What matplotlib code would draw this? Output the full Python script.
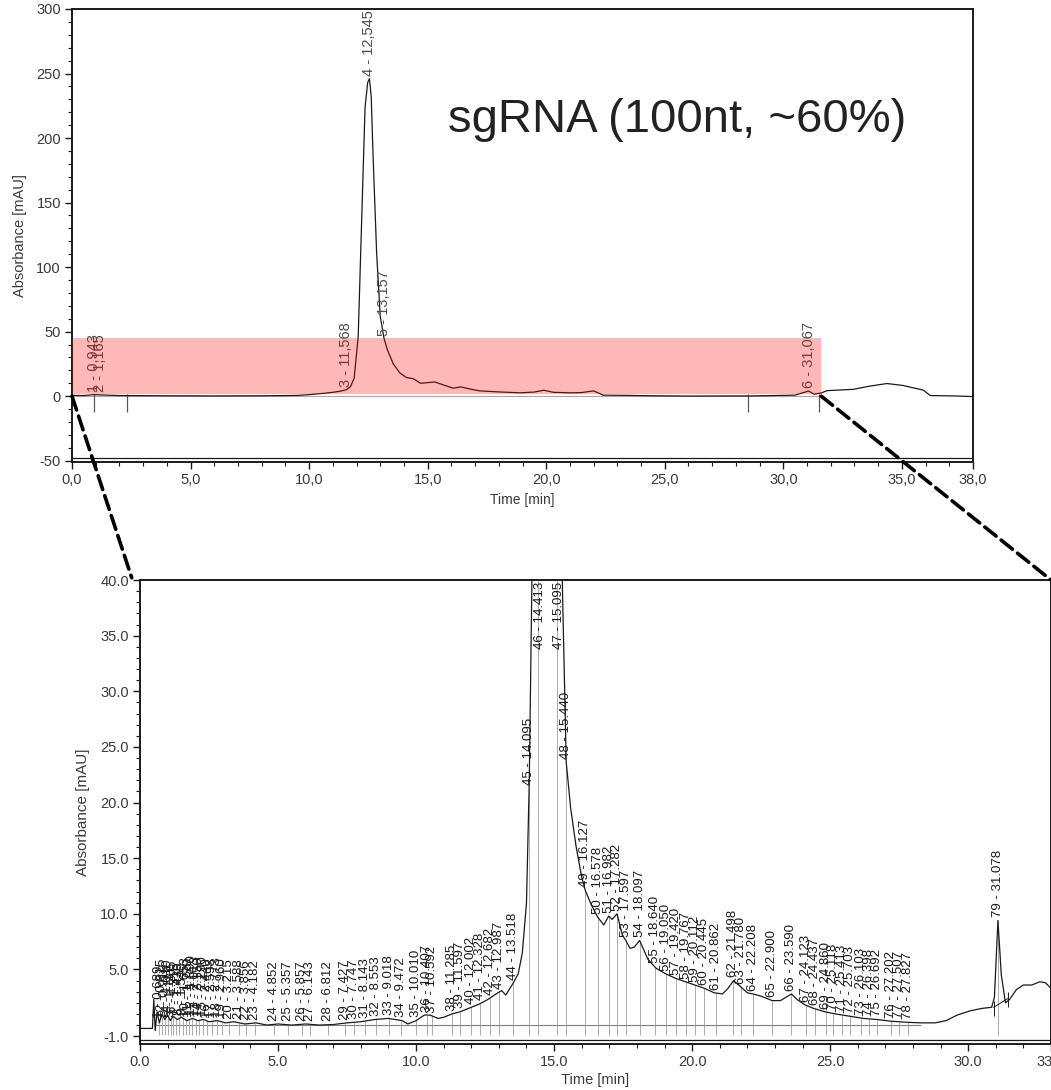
import numpy as np
import matplotlib.pyplot as plt
from matplotlib import font_manager
from matplotlib.patches import Rectangle, ConnectionPatch
from matplotlib.ticker import MultipleLocator

plt.rcParams['font.family'] = ['Liberation Sans', 'DejaVu Sans']
installed = {f.name for f in font_manager.fontManager.ttflist}
narrow = 'Liberation Sans Narrow' if 'Liberation Sans Narrow' in installed else 'Liberation Sans'

# full run, 0-38 min
top_time = [0.0, 0.5, 0.94, 1.17, 2.0, 4.0, 6.0, 8.0, 9.5, 10.0, 10.5, 11.0, 11.3, 11.57,
            11.75, 11.9, 12.07, 12.2, 12.36, 12.47, 12.545, 12.62, 12.7, 12.85, 13.0, 13.157,
            13.3, 13.55, 13.83, 14.1, 14.4, 14.7, 15.3, 15.7, 16.07, 16.4, 16.8, 17.2, 18.0,
            18.9, 19.5, 19.9, 20.3, 21.0, 21.5, 22.0, 22.4, 23.5, 24.5, 26.0, 28.7, 30.5,
            31.067, 31.3, 31.6, 31.85, 32.4, 32.95, 33.65, 34.37, 35.05, 35.9, 36.2, 37.15, 38.0]
top_signal = [0.6, 0.5, 1.2, 1.0, 0.5, 0.3, 0.2, 0.3, 0.6, 1.2, 2.0, 3.0, 3.8, 5.0,
              7.5, 14.0, 46.0, 126.0, 224.0, 243.0, 246.0, 232.0, 185.0, 110.0, 62.0, 45.0,
              36.0, 25.0, 18.0, 14.5, 13.5, 10.0, 11.0, 8.5, 6.2, 7.2, 5.5, 4.1, 3.3,
              2.6, 3.2, 4.6, 3.0, 2.6, 2.8, 4.1, 0.8, 0.6, 0.3, 0.1, 0.2, 0.8,
              4.0, 1.5, 2.5, 4.3, 4.8, 5.3, 7.8, 9.8, 8.3, 4.7, 0.5, 0.2, -0.3]
top_peak_no = [1, 2, 3, 4, 5, 6]
top_peak_rt = [0.943, 1.165, 11.568, 12.545, 13.157, 31.067]
top_marks = [0.94, 2.3, 28.5, 31.5]
highlight_t = (0.0, 31.6)
highlight_y = (1.5, 45.0)

# expanded run, 0-33 min
zoom_time = [0.0, 0.45, 0.5, 0.55, 0.62, 0.7, 0.8, 0.9, 1.0, 1.1, 1.2, 1.35, 1.5, 1.7, 1.9,
             2.1, 2.3, 2.5, 2.8, 3.1, 3.4, 3.8, 4.2, 4.6, 5.0, 5.5, 6.0, 6.5, 7.0, 7.5, 8.0,
             8.5, 9.0, 9.5, 9.7, 10.0, 10.3, 10.5, 10.8, 11.0, 11.3, 11.6, 12.0, 12.3, 12.6,
             12.9, 13.1, 13.25, 13.5, 13.7, 13.85, 14.0, 14.1, 14.2, 14.413, 14.7, 15.0, 15.3,
             15.44, 15.6, 15.8, 16.0, 16.13, 16.35, 16.58, 16.8, 16.98, 17.1, 17.28, 17.47,
             17.6, 17.75, 17.9, 18.1, 18.4, 18.7, 19.05, 19.4, 19.75, 20.1, 20.45, 20.8, 21.1,
             21.3, 21.5, 21.78, 22.0, 22.2, 22.5, 22.9, 23.2, 23.4, 23.6, 23.8, 24.1, 24.4,
             24.8, 25.2, 25.7, 26.2, 26.7, 27.2, 27.8, 28.3, 28.8, 29.2, 29.6, 30.1, 30.5,
             30.85, 30.95, 31.078, 31.2, 31.35, 31.5, 31.75, 32.0, 32.3, 32.6, 32.8, 33.0]
zoom_signal = [-0.3, -0.3, 2.3, -0.5, 1.2, 0.2, 1.0, 0.5, 0.9, 0.4, 0.8, 0.5, 0.7, 0.4, 0.6,
               0.4, 0.5, 0.3, 0.4, 0.2, 0.3, 0.1, 0.2, 0.0, 0.1, 0.0, 0.1, 0.0, 0.05, 0.2, 0.3,
               0.5, 0.6, 0.4, 0.1, 0.4, 0.9, 0.9, 0.6, 0.7, 1.0, 1.2, 1.6, 1.9, 2.3,
               2.8, 3.1, 2.7, 3.7, 4.6, 6.5, 11.0, 21.8, 40.5, 120.0, 110.0, 95.0, 39.5,
               23.6, 19.5, 16.0, 13.3, 12.1, 10.8, 9.7, 9.0, 9.8, 9.5, 10.0, 8.1,
               7.6, 6.9, 7.0, 7.6, 5.9, 5.1, 4.6, 4.2, 3.9, 3.6, 3.3, 2.9, 2.8,
               3.3, 4.0, 3.4, 2.9, 2.8, 2.6, 2.2, 2.2, 2.5, 2.8, 2.3, 1.8, 1.5,
               1.2, 1.0, 0.8, 0.6, 0.5, 0.35, 0.25, 0.2, 0.2, 0.4, 0.9, 1.3, 1.5,
               1.6, 2.5, 9.4, 4.5, 2.0, 2.3, 3.2, 3.6, 3.6, 3.9, 3.8, 3.3]
zoom_peak_rt = [0.689, 0.815, 0.913, 1.010, 1.117, 1.205, 1.318, 1.430, 1.540, 1.653,
                1.770, 1.890, 2.013, 2.150, 2.290, 2.440, 2.598, 2.773, 2.960, 3.215,
                3.588, 3.856, 4.182, 4.852, 5.357, 5.857, 6.143, 6.812, 7.427, 7.747,
                8.143, 8.553, 9.018, 9.472, 10.010, 10.407, 10.592, 11.285, 11.597, 12.002,
                12.328, 12.682, 12.987, 13.518, 14.095, 14.413, 15.095, 15.440, 16.127, 16.578,
                16.982, 17.282, 17.597, 18.097, 18.640, 19.050, 19.420, 19.767, 20.112, 20.445,
                20.862, 21.498, 21.780, 22.208, 22.900, 23.590, 24.123, 24.437, 24.860, 25.118,
                25.413, 25.703, 26.103, 26.398, 26.692, 27.202, 27.507, 27.827, 31.078]
zoom_peak_no = list(range(1, len(zoom_peak_rt) + 1))
peak79_base = ([30.92, 31.45], [1.6, 2.4])

fig = plt.figure(figsize=(10.51, 10.90), dpi=100)
ax1 = fig.add_axes([72 / 1051, 1 - 462 / 1090, 901 / 1051, 453 / 1090])
ax2 = fig.add_axes([140 / 1051, 1 - 1044 / 1090, 911 / 1051, 464 / 1090])

ink = '#1a1a1a'
txt = '#3a3a3a'

# ---- top: whole chromatogram
ax1.plot(top_time, top_signal, color=ink, lw=0.9, zorder=3)
ax1.hlines(0, 0, 31.5, color='0.65', lw=0.8, zorder=2)
ax1.vlines(top_marks, -12, 2, color='0.35', lw=0.9, zorder=2)
for n, rt in zip(top_peak_no, top_peak_rt):
    y = np.interp(rt, top_time, top_signal) + 2
    ax1.text(rt, y, f'{n} - {rt:.3f}'.replace('.', ','), rotation=90, ha='center',
             va='bottom', fontsize=10.5, family=narrow, color='0.3', zorder=4)
ax1.add_patch(Rectangle((highlight_t[0], highlight_y[0]), highlight_t[1] - highlight_t[0],
                        highlight_y[1] - highlight_y[0], facecolor='red', alpha=0.28,
                        lw=0, zorder=5))
ax1.set_xlim(0, 38)
ax1.set_ylim(-51, 300)
xt = [0, 5, 10, 15, 20, 25, 30, 35, 38]
ax1.set_xticks(xt)
ax1.set_xticklabels([f'{v:.1f}'.replace('.', ',') for v in xt])
yt = [-50, 0, 50, 100, 150, 200, 250, 300]
ax1.set_yticks(yt)
ax1.set_yticklabels([str(v) for v in yt])
ax1.xaxis.set_minor_locator(MultipleLocator(1))
ax1.yaxis.set_minor_locator(MultipleLocator(10))
ax1.set_xlabel('Time [min]', fontsize=10, color=txt)
ax1.set_ylabel('Absorbance [mAU]', fontsize=10.5, color=txt)
ax1.xaxis.set_label_coords(0.5, -0.068)
ax1.yaxis.set_label_coords(-0.05, 0.5)
ax1.axhline(-48.2, color=ink, lw=0.9)
ax1.text(448 / 1051, 1 - 132 / 1090, 'sgRNA (100nt, ~60%)', transform=fig.transFigure,
         fontsize=34, color='#222222', ha='left', va='baseline')

# ---- bottom: expanded view
ax2.plot(zoom_time, zoom_signal, color=ink, lw=0.9, zorder=3)
ax2.hlines(0, 0.5, 28.3, color='0.5', lw=0.8, zorder=2)
for n, rt in zip(zoom_peak_no, zoom_peak_rt):
    y = np.interp(rt, zoom_time, zoom_signal)
    ax2.vlines(rt, -0.9, min(y, 40), color='0.62', lw=0.6, zorder=2)
    label = f'{n} - {rt:.3f}'
    if y > 34:
        ax2.text(rt + 0.08, 39.8, label, rotation=90, ha='center', va='top',
                 fontsize=9.5, family=narrow, color=ink, zorder=4)
    else:
        ax2.text(rt, y + 0.3, label, rotation=90, ha='center', va='bottom',
                 fontsize=9.5, family=narrow, color=ink, zorder=4)
ax2.plot(peak79_base[0], peak79_base[1], color=ink, lw=0.7)
ax2.vlines(peak79_base[0], np.array(peak79_base[1]) - 0.8, np.array(peak79_base[1]) + 0.6,
           color=ink, lw=0.7)
ax2.set_xlim(0, 33)
ax2.set_ylim(-1.7, 40)
xt2 = [0, 5, 10, 15, 20, 25, 30, 33]
ax2.set_xticks(xt2)
ax2.set_xticklabels([f'{v:.1f}' for v in xt2])
yt2 = [-1, 5, 10, 15, 20, 25, 30, 35, 40]
ax2.set_yticks(yt2)
ax2.set_yticklabels([f'{v:.1f}' for v in yt2])
ax2.xaxis.set_minor_locator(MultipleLocator(1))
ax2.yaxis.set_minor_locator(MultipleLocator(1))
ax2.set_xlabel('Time [min]', fontsize=10.5, color=txt)
ax2.set_ylabel('Absorbance [mAU]', fontsize=11, color=txt)
ax2.xaxis.set_label_coords(0.5, -0.0625)
ax2.yaxis.set_label_coords(-0.055, 0.5)
ax2.axhline(-1.35, color=ink, lw=0.9)

for ax in (ax1, ax2):
    for sp in ax.spines.values():
        sp.set_linewidth(1.4)
        sp.set_color(ink)
    ax.tick_params(which='major', direction='out', length=5, width=1, labelsize=10.5,
                   labelcolor=txt, color=ink, pad=3)
    ax.tick_params(which='minor', direction='out', length=3, width=0.8, color=ink)

# dashed zoom guides
for a, b in [((0, 0), (-0.3, 40.2)), ((31.6, 0), (33, 40))]:
    con = ConnectionPatch(xyA=a, coordsA=ax1.transData, xyB=b, coordsB=ax2.transData,
                          color='black', lw=2.6, linestyle=(0, (4, 1.8)), zorder=10)
    fig.add_artist(con)

fig.savefig('out.png', dpi=100)
